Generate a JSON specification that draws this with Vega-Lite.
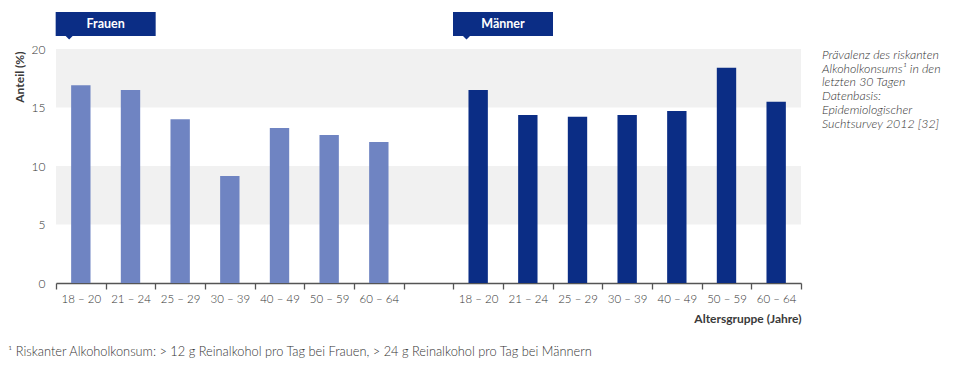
{
  "$schema": "https://vega.github.io/schema/vega-lite/v6.json",
  "width": 745,
  "height": 234,
  "autosize": {"type": "none"},
  "padding": {"left": 56, "top": 49, "right": 157, "bottom": 87},
  "background": "white",
  "config": {
    "view": {"stroke": null},
    "font": "Lato"
  },
  "datasets": {
    "bands": [{"y": 15, "y2": 20}, {"y": 5, "y2": 10}],
    "bars": [
      {"key": "W 18 – 20", "group": "Frauen", "value": 16.9},
      {"key": "W 21 – 24", "group": "Frauen", "value": 16.5},
      {"key": "W 25 – 29", "group": "Frauen", "value": 14.0},
      {"key": "W 30 – 39", "group": "Frauen", "value": 9.15},
      {"key": "W 40 – 49", "group": "Frauen", "value": 13.25},
      {"key": "W 50 – 59", "group": "Frauen", "value": 12.65},
      {"key": "W 60 – 64", "group": "Frauen", "value": 12.05},
      {"key": "M 18 – 20", "group": "Männer", "value": 16.5},
      {"key": "M 21 – 24", "group": "Männer", "value": 14.35},
      {"key": "M 25 – 29", "group": "Männer", "value": 14.2},
      {"key": "M 30 – 39", "group": "Männer", "value": 14.35},
      {"key": "M 40 – 49", "group": "Männer", "value": 14.7},
      {"key": "M 50 – 59", "group": "Männer", "value": 18.4},
      {"key": "M 60 – 64", "group": "Männer", "value": 15.5}
    ],
    "boxes": [
      {"key": "W 21 – 24", "text": "Frauen", "v": 22.14},
      {"key": "M 21 – 24", "text": "Männer", "v": 22.14}
    ],
    "note": [
      {"key": "M 60 – 64", "v": 20, "text": ["Prävalenz des riskanten", "Alkoholkonsums¹ in den", "letzten 30 Tagen", "Datenbasis:", "Epidemiologischer", "Suchtsurvey 2012 [32]"]}
    ],
    "foot": [
      {"key": "W 18 – 20", "v": -5.9, "text": "¹ Riskanter Alkoholkonsum: > 12 g Reinalkohol pro Tag bei Frauen, > 24 g Reinalkohol pro Tag bei Männern"}
    ]
  },
  "layer": [
    {
      "data": {"name": "bands"},
      "mark": {"type": "rect", "color": "#f1f1f1"},
      "encoding": {
        "y": {"field": "y", "type": "quantitative", "scale": {"domain": [0, 20], "nice": false},
          "axis": {"values": [0, 5, 10, 15, 20], "ticks": false, "domain": false, "grid": false,
            "labelPadding": 11, "labelFontSize": 12, "labelFontWeight": 300, "labelColor": "#333",
            "title": "Anteil (%)", "titleY": 2, "titleAlign": "right", "titleFontSize": 12, "titleFontWeight": "bold",
            "titleColor": "#3a3a3a", "titlePadding": 5}},
        "y2": {"field": "y2"}
      }
    },
    {
      "data": {"name": "bars"},
      "mark": {"type": "bar", "width": {"band": 0.39}},
      "encoding": {
        "x": {"field": "key", "type": "nominal",
          "scale": {"domain": ["W 18 – 20", "W 21 – 24", "W 25 – 29", "W 30 – 39", "W 40 – 49", "W 50 – 59", "W 60 – 64", "gap", "M 18 – 20", "M 21 – 24", "M 25 – 29", "M 30 – 39", "M 40 – 49", "M 50 – 59", "M 60 – 64"], "paddingInner": 0, "paddingOuter": 0},
          "axis": {"labelExpr": "(datum.value && datum.value !== 'gap') ? substring(datum.value, 2) : ''", "labelAngle": 0,
            "tickBand": "extent", "tickSize": 6, "tickColor": "#555", "domainColor": "#555", "domainWidth": 1.3, "tickWidth": 1.3,
            "labelPadding": 4, "labelFontSize": 11.5, "labelFontWeight": 300, "labelColor": "#333",
            "title": "Altersgruppe (Jahre)", "titleAnchor": "end", "titleFontSize": 12, "titleFontWeight": "bold",
            "titleColor": "#3a3a3a", "titlePadding": 9}},
        "y": {"field": "value", "type": "quantitative", "scale": {"domain": [0, 20], "nice": false}},
        "color": {"field": "group", "type": "nominal", "scale": {"domain": ["Frauen", "Männer"], "range": ["#6f84c2", "#0b2d85"]}, "legend": null}
      }
    },
    {
      "data": {"name": "boxes"},
      "mark": {"type": "point", "filled": true, "opacity": 1, "color": "#0b2d85", "size": 10000,
        "shape": "M-1,-0.24L1,-0.24L1,0.24L-0.66,0.24L-0.73,0.31L-0.8,0.24L-1,0.24Z"},
      "encoding": {
        "x": {"field": "key", "type": "nominal", "bandPosition": 0},
        "y": {"field": "v", "type": "quantitative", "scale": {"domain": [0, 20], "nice": false}}
      }
    },
    {
      "data": {"name": "boxes"},
      "mark": {"type": "text", "color": "white", "fontWeight": "bold", "fontSize": 12.5, "align": "center", "baseline": "middle"},
      "encoding": {
        "x": {"field": "key", "type": "nominal", "bandPosition": 0},
        "y": {"field": "v", "type": "quantitative", "scale": {"domain": [0, 20], "nice": false}},
        "text": {"field": "text"}
      }
    },
    {
      "data": {"name": "note"},
      "mark": {"type": "text", "color": "#333", "fontStyle": "italic", "fontWeight": 300, "fontSize": 12.4, "align": "left", "baseline": "top", "lineHeight": 13.7, "dx": 21},
      "encoding": {
        "x": {"field": "key", "type": "nominal", "bandPosition": 1},
        "y": {"field": "v", "type": "quantitative", "scale": {"domain": [0, 20], "nice": false}},
        "text": {"field": "text"}
      }
    },
    {
      "data": {"name": "foot"},
      "mark": {"type": "text", "color": "#333", "fontWeight": 300, "fontSize": 12.8, "align": "left", "baseline": "middle", "dx": -48},
      "encoding": {
        "x": {"field": "key", "type": "nominal", "bandPosition": 0},
        "y": {"field": "v", "type": "quantitative", "scale": {"domain": [0, 20], "nice": false}},
        "text": {"field": "text"}
      }
    }
  ]
}
